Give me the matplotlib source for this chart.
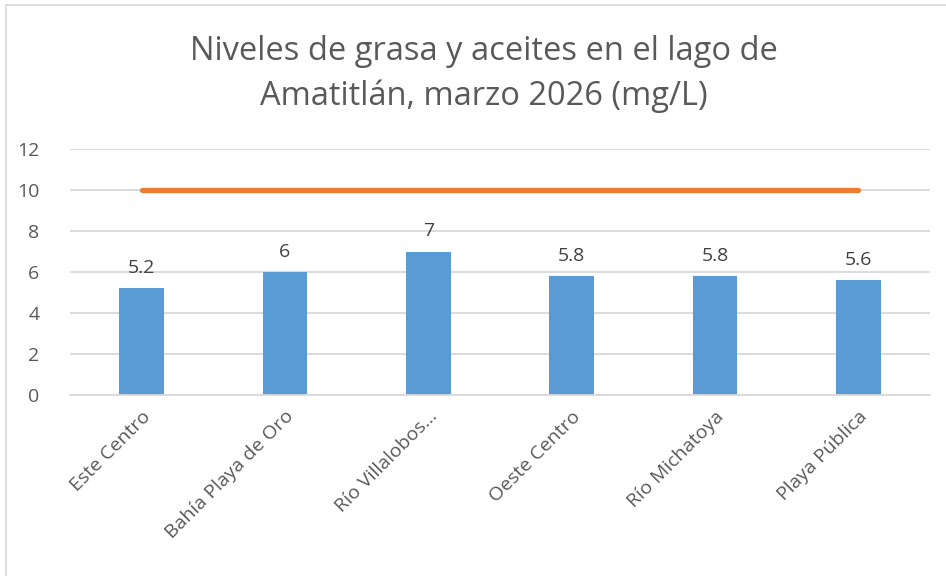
import matplotlib
matplotlib.use('Agg')
import matplotlib.pyplot as plt
from matplotlib.patches import Rectangle

plt.rcParams['font.family'] = ['Open Sans', 'DejaVu Sans']

# datos
sitios = ['Este Centro', 'Bahía Playa de Oro', 'Río Villalobos…', 'Oeste Centro',
          'Río Michatoya', 'Playa Pública']
grasas = [5.2, 6, 7, 5.8, 5.8, 5.6]
limite = [10, 10, 10, 10, 10, 10]
etiquetas = ['5.2', '6', '7', '5.8', '5.8', '5.6']
yticks = [0, 2, 4, 6, 8, 10, 12]

gris = '#595959'
fig = plt.figure(figsize=(9.46, 5.76), dpi=100)
ax = fig.add_axes([70 / 946, 1 - 395 / 576, 860 / 946, 246 / 576])

x = list(range(len(sitios)))
ax.bar(x, grasas, width=0.31, color='#5B9BD5', zorder=2)
ax.plot(x, limite, color='#ED7D31', lw=3.8, solid_capstyle='round', zorder=3)

for xi, v, t in zip(x, grasas, etiquetas):
    ax.text(xi, v + 0.55, t, ha='center', va='bottom', fontsize=14, color='#404040')

ax.set_xlim(-0.5, len(sitios) - 0.5)
ax.set_ylim(0, 12)
ax.set_yticks(yticks)
ax.yaxis.grid(True, color='#D9D9D9', lw=1.3, zorder=0)
ax.set_axisbelow(True)
for s in ['top', 'right', 'left']:
    ax.spines[s].set_visible(False)
ax.spines['bottom'].set_color('#D9D9D9')
ax.spines['bottom'].set_linewidth(1.3)
ax.tick_params(axis='both', length=0, labelsize=14, labelcolor=gris)
ax.tick_params(axis='y', pad=22)
ax.set_xticks(x)
ax.set_xticklabels(sitios, rotation=45, ha='right', rotation_mode='anchor')
ax.tick_params(axis='x', pad=9)

fig.text(484 / 946, 1 - 74 / 576, 'Niveles de grasa y aceites en el lago de\nAmatitlán, marzo 2026 (mg/L)',
         ha='center', va='center', fontsize=23.5, color=gris, linespacing=1.42)

# borde del grafico
fig.patches.append(Rectangle((6 / 946, -0.05), 1.1, 1 - 5 / 576 + 0.05, transform=fig.transFigure,
                             fill=False, edgecolor='#D9D9D9', lw=1.3))

fig.savefig('out.png', dpi=100)
